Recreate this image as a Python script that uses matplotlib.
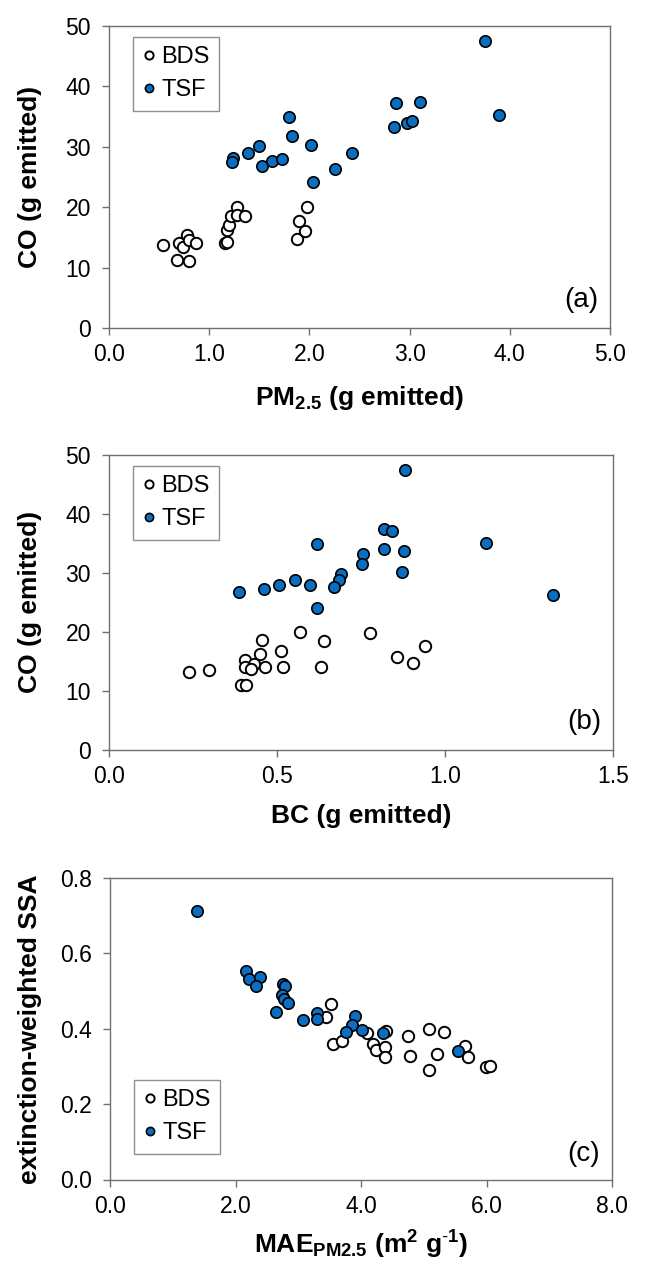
import matplotlib
matplotlib.use("Agg")
import matplotlib.pyplot as plt
from matplotlib.ticker import MultipleLocator, FormatStrFormatter

plt.rcParams['font.family'] = ['Liberation Sans', 'DejaVu Sans']
plt.rcParams['mathtext.fontset'] = 'custom'
plt.rcParams['mathtext.rm'] = 'Liberation Sans'
plt.rcParams['mathtext.bf'] = 'Liberation Sans:bold'
plt.rcParams['mathtext.it'] = 'Liberation Sans:italic'

# (a) CO vs PM2.5
pm_bds = [0.54, 0.68, 0.80, 0.70, 0.74, 0.78, 0.80, 0.87, 1.16, 1.18,
          1.18, 1.20, 1.22, 1.28, 1.28, 1.36, 1.88, 1.90, 1.96, 1.98]
co_bds_a = [13.7, 11.3, 11.1, 14.1, 13.4, 15.4, 14.6, 14.1, 14.1, 14.3,
            16.3, 17.0, 18.6, 20.1, 18.7, 18.6, 14.7, 17.7, 16.0, 20.0]
pm_tsf = [3.75, 2.86, 3.10, 3.89, 2.84, 2.97, 3.02, 1.80, 1.83, 2.02,
          1.50, 1.39, 1.24, 1.23, 1.53, 1.63, 1.73, 2.43, 2.26, 2.04]
co_tsf_a = [47.5, 37.3, 37.5, 35.3, 33.3, 33.9, 34.3, 35.0, 31.8, 30.3,
            30.1, 28.9, 28.1, 27.5, 26.8, 27.7, 27.9, 28.9, 26.3, 24.2]

# (b) CO vs BC
bc_bds = [0.567, 0.777, 0.455, 0.640, 0.939, 0.511, 0.448, 0.857, 0.406, 0.431,
          0.906, 0.406, 0.422, 0.464, 0.519, 0.630, 0.239, 0.299, 0.392, 0.409]
co_bds_b = [20.0, 19.8, 18.7, 18.4, 17.6, 16.8, 16.2, 15.8, 15.3, 14.6,
            14.7, 14.0, 13.8, 14.0, 14.0, 14.0, 13.3, 13.5, 11.1, 11.0]
bc_tsf = [0.881, 0.818, 0.841, 0.620, 1.121, 0.819, 0.878, 0.755, 0.754, 0.689,
          0.684, 0.872, 0.669, 0.553, 0.599, 0.507, 0.460, 0.387, 0.618, 1.320]
co_tsf_b = [47.4, 37.4, 37.1, 34.9, 35.1, 34.1, 33.8, 33.2, 31.6, 29.9,
            28.8, 30.2, 27.6, 28.8, 27.9, 27.9, 27.3, 26.8, 24.0, 26.2]

# (c) SSA vs MAE
mae_bds = [3.52, 3.44, 4.09, 4.40, 4.75, 5.08, 5.32, 5.66, 5.70, 3.55,
           3.70, 4.19, 4.24, 4.39, 4.39, 4.78, 5.21, 5.08, 5.99, 6.05]
ssa_bds = [0.465, 0.432, 0.390, 0.393, 0.381, 0.400, 0.391, 0.355, 0.326, 0.359,
           0.368, 0.360, 0.344, 0.352, 0.324, 0.328, 0.334, 0.291, 0.299, 0.300]
mae_tsf = [1.39, 2.16, 2.22, 2.39, 2.32, 2.76, 2.79, 2.74, 2.78, 2.84,
           2.65, 3.07, 3.30, 3.30, 3.90, 3.86, 4.01, 3.76, 4.35, 5.55]
ssa_tsf = [0.713, 0.552, 0.532, 0.537, 0.513, 0.519, 0.513, 0.490, 0.480, 0.469,
           0.444, 0.422, 0.441, 0.425, 0.433, 0.409, 0.397, 0.391, 0.389, 0.342]

blue = '#0a6fc2'
spine_col = '#707070'

fig = plt.figure(figsize=(6.58, 12.65), dpi=100)
W, H = 658, 1265


def make_ax(left, right, top, bottom):
    return fig.add_axes([left / W, 1 - bottom / H, (right - left) / W, (bottom - top) / H])


def style(ax, xmax, xstep, xfmt, ymax, ystep, yfmt):
    ax.set_xlim(0, xmax)
    ax.set_ylim(0, ymax)
    ax.xaxis.set_major_locator(MultipleLocator(xstep))
    ax.yaxis.set_major_locator(MultipleLocator(ystep))
    ax.xaxis.set_major_formatter(FormatStrFormatter(xfmt))
    ax.yaxis.set_major_formatter(FormatStrFormatter(yfmt))
    for s in ax.spines.values():
        s.set_color(spine_col)
        s.set_linewidth(1.0)
    ax.tick_params(axis='both', direction='out', length=5, width=1,
                   color=spine_col, labelcolor='black', labelsize=16.5)
    ax.tick_params(axis='x', pad=6)
    ax.tick_params(axis='y', pad=8)


def draw(ax, xb, yb, xt, yt):
    ax.plot(xb, yb, 'o', ms=8.2, mfc='white', mec='black', mew=1.4,
            label='BDS', clip_on=False, zorder=3)
    ax.plot(xt, yt, 'o', ms=8.2, mfc=blue, mec='black', mew=1.2,
            label='TSF', clip_on=False, zorder=4)


def add_legend(ax, loc, anchor):
    leg = ax.legend(loc=loc, bbox_to_anchor=anchor, borderaxespad=0,
                    frameon=True, fancybox=False, edgecolor='#909090',
                    framealpha=1, fontsize=17, markerscale=0.72,
                    handlelength=0.55, handletextpad=0.25, labelspacing=0.45,
                    borderpad=0.4)
    leg.get_frame().set_linewidth(1.0)


lab_kw = dict(fontsize=19, fontweight='bold')

# panel a
ax_a = make_ax(109, 610, 26, 328)
draw(ax_a, pm_bds, co_bds_a, pm_tsf, co_tsf_a)
style(ax_a, 5.0, 1.0, '%.1f', 50, 10, '%d')
add_legend(ax_a, 'upper left', (24 / 501, 1 - 11 / 302))
ax_a.text(0.976, 0.093, '(a)', transform=ax_a.transAxes, ha='right', va='center', fontsize=20)
fig.text(30 / W, 1 - 177 / H, 'CO (g emitted)', rotation=90, ha='center', va='center', **lab_kw)
fig.text(360 / W, 1 - 398 / H, r'PM$_{\mathbf{2.5}}$ (g emitted)', ha='center', va='center', **lab_kw)

# panel b
ax_b = make_ax(109, 613, 455, 750)
draw(ax_b, bc_bds, co_bds_b, bc_tsf, co_tsf_b)
style(ax_b, 1.5, 0.5, '%.1f', 50, 10, '%d')
add_legend(ax_b, 'upper left', (24 / 504, 1 - 11 / 295))
ax_b.text(0.976, 0.095, '(b)', transform=ax_b.transAxes, ha='right', va='center', fontsize=20)
fig.text(30 / W, 1 - 602 / H, 'CO (g emitted)', rotation=90, ha='center', va='center', **lab_kw)
fig.text(361 / W, 1 - 816 / H, 'BC (g emitted)', ha='center', va='center', **lab_kw)

# panel c
ax_c = make_ax(110, 612, 878, 1179.5)
draw(ax_c, mae_bds, ssa_bds, mae_tsf, ssa_tsf)
style(ax_c, 8.0, 2.0, '%.1f', 0.8, 0.2, '%.1f')
add_legend(ax_c, 'lower left', (24 / 502, 26 / 301.5))
ax_c.text(0.976, 0.085, '(c)', transform=ax_c.transAxes, ha='right', va='center', fontsize=20)
fig.text(30 / W, 1 - 1029 / H, 'extinction-weighted SSA', rotation=90, ha='center', va='center', **lab_kw)
fig.text(361 / W, 1 - 1245 / H,
         r'MAE$_{\mathbf{PM2.5}}$ (m$^{\mathbf{2}}$ g$^{\mathbf{\text{-}1}}$)',
         ha='center', va='center', **lab_kw)

fig.savefig('out.png', dpi=100)
